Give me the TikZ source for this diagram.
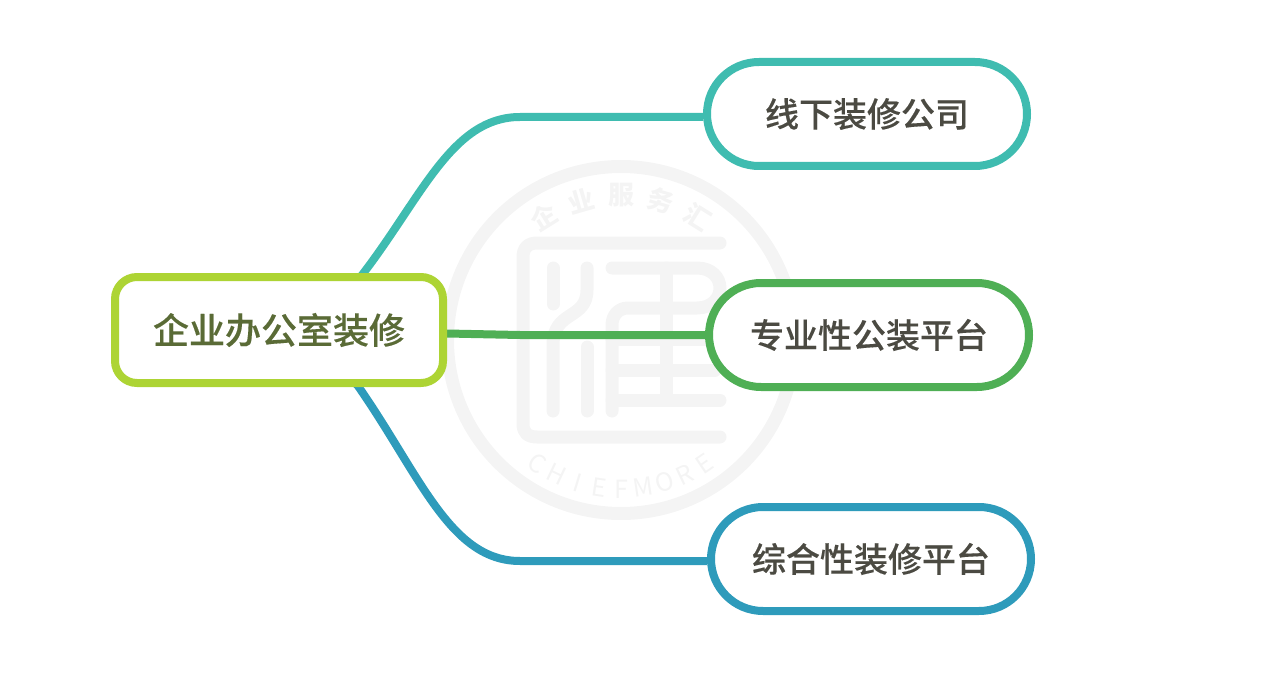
\documentclass[tikz,border=0pt]{standalone}
\usepackage{fontspec}
\usetikzlibrary{backgrounds}
\setmainfont{Noto Sans CJK SC Medium}[FakeBold=0.3]
\newfontfamily\markfont{Noto Sans CJK SC}
\definecolor{limeline}{HTML}{ADD434}
\definecolor{tealline}{HTML}{3FBCB0}
\definecolor{greenline}{HTML}{4FAF55}
\definecolor{blueline}{HTML}{2E9BBB}
\definecolor{roottext}{HTML}{5A6B36}
\definecolor{leaftext}{HTML}{4B4A42}
\definecolor{markgray}{HTML}{F4F4F4}
\tikzset{%
    rootbox/.style={%
        draw=limeline,%
        fill=white,%
        line width=8pt,%
        rounded corners=22pt,%
        minimum width=328pt,%
        minimum height=106pt,%
        text=roottext,%
        font=\fontsize{36pt}{36pt}\selectfont%
    },%
    leafbox/.style={%
        fill=white,%
        line width=8pt,%
        rounded corners=52pt,%
        minimum width=320pt,%
        minimum height=104pt,%
        text=leaftext,%
        font=\fontsize{34pt}{34pt}\selectfont%
    },%
    branch/.style={%
        line width=8pt%
    },%
    markline/.style={%
        draw=markgray,%
        line width=13pt,%
        line cap=round,%
        line join=round%
    },%
    marktop/.style={%
        text=markgray,%
        font=\markfont\bfseries\fontsize{26pt}{26pt}\selectfont%
    },%
    markbottom/.style={%
        text=markgray,%
        inner sep=0pt,%
        font=\markfont\fontsize{25pt}{25pt}\selectfont%
    }%
}

\begin{document}
\begin{tikzpicture}[x=1pt,y=-1pt]
    \useasboundingbox (0,0) rectangle (1262,674);
    % nodes
    \node[rootbox] (root) at (279,330) {企业办公室装修};
    \node[leafbox,draw=tealline] (offline) at (867,114) {线下装修公司};
    \node[leafbox,draw=greenline] (special) at (869,335) {专业性公装平台};
    \node[leafbox,draw=blueline] (general) at (871,559) {综合性装修平台};
    \begin{scope}[on background layer]
        % watermark
        \node[draw=markgray,line width=13pt,circle,minimum size=347pt] (mark) at (621,340) {};
        \foreach \a/\t [count=\i] in {-32/企,-16/业,0/服,16/务,32/汇} {
            \node[marktop,rotate=-\a] (marktop\i) at ({621+145*sin(\a)},{340-145*cos(\a)}) {\t};
        }
        \foreach \a/\t [count=\i] in {34/C,25.5/H,17/I,8.5/E,0/F,-8.5/M,-17/O,-25.5/R,-34/E} {
            \node[markbottom,rotate=-\a] (markbottom\i) at ({621-149*sin(\a)},{340+149*cos(\a)}) {\t};
        }
        \draw[markline] (720,243) -- (537,243) .. controls (528,243) and (523,248) .. (523,257)
            -- (523,424) .. controls (523,433) and (528,437) .. (537,437) -- (720,437);
        \draw[markline] (553,268) -- (553,304);
        \draw[markline] (587,268) -- (587,290) .. controls (587,320) and (553,310) .. (553,345) -- (553,411);
        \draw[markline] (587,347) -- (587,411);
        \draw[markline] (612,268) -- (697,268) .. controls (712,268) and (720,278) .. (720,288)
            .. controls (720,298) and (712,308) .. (697,308) -- (628,308)
            .. controls (618,308) and (612,316) .. (612,325) -- (612,411);
        \draw[markline] (666.5,268) -- (666.5,400);
        \draw[markline] (612,339) -- (720,339);
        \draw[markline] (612,370) -- (715,370);
        \draw[markline] (612,400) -- (720,400);
        % branches
        \draw[branch,draw=tealline] ([shift={(75,10)}]root.north) -- (362,275)
            .. controls (422,197) and (452,117) .. (520,117) -- ([yshift=-3]offline.west);
        \draw[branch,draw=greenline] ([yshift=-3.5]root.east) -- (520,335) -- (special.west);
        \draw[branch,draw=blueline] ([shift={(70,-10)}]root.south) -- (358,386)
            .. controls (420,475) and (450,561) .. (520,561) -- ([yshift=-2]general.west);
    \end{scope}
\end{tikzpicture}
\end{document}
